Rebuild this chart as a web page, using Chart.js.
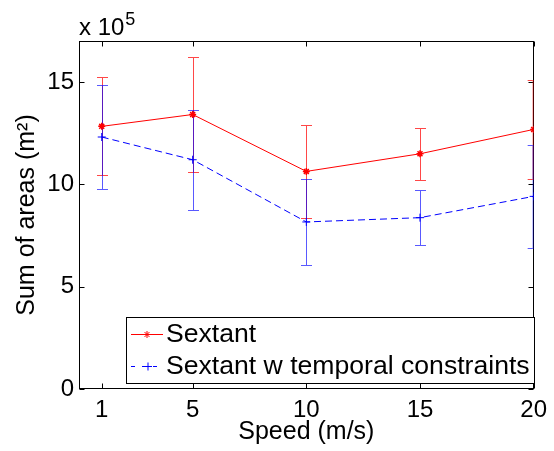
<!DOCTYPE html>
<html><head><meta charset="utf-8">
<script src="https://cdn.jsdelivr.net/npm/chart.js@4.4.0/dist/chart.umd.min.js"></script>
<style>html,body{margin:0;padding:0;background:#fff;overflow:hidden}#wrap{width:554px;height:451px}</style>
</head><body><div id="wrap"><canvas id="c" width="554" height="451"></canvas></div>
<script>
const speeds = [1, 5, 10, 15, 20];
const sextantMean = [12.83, 13.41, 10.63, 11.49, 12.68];
const sextantErr = [2.40, 2.83, 2.26, 1.27, 2.43];
const temporalMean = [12.31, 11.20, 8.16, 8.37, 9.41];
const temporalErr = [2.54, 2.44, 2.10, 1.33, 2.53];
const xTicks = [1, 5, 10, 15, 20];
const yTicks = [0, 5, 10, 15];
const seriesNames = ['Sextant', 'Sextant w temporal constraints'];
const xTitle = 'Speed (m/s)';
const yTitle = 'Sum of areas (m\u00B2)';
const multBase = 'x 10';
const multExp = '5';

const FONT = '"Liberation Sans", Arial, Helvetica, sans-serif';
const RED = '#ff0000', BLUE = '#0000ff';
const RED_EB = 'rgba(255,0,0,0.72)', BLUE_EB = 'rgba(0,0,255,0.65)';

const pts = (m) => speeds.map((s, i) => ({x: s, y: m[i]}));

const errorBars = {
  id: 'errorBars',
  beforeDatasetsDraw(chart) {
    const ctx = chart.ctx, xs = chart.scales.x, ys = chart.scales.y, a = chart.chartArea;
    const sets = [[sextantMean, sextantErr, RED_EB], [temporalMean, temporalErr, BLUE_EB]];
    ctx.save();
    ctx.beginPath();
    ctx.rect(a.left, a.top, a.right - a.left, a.bottom - a.top);
    ctx.clip();
    sets.forEach(([m, e, col]) => {
      ctx.fillStyle = col;
      speeds.forEach((s, i) => {
        const px = Math.round(xs.getPixelForValue(s));
        const top = Math.round(ys.getPixelForValue(m[i] + e[i]));
        const bot = Math.round(ys.getPixelForValue(m[i] - e[i]));
        const x0 = Math.min(px, a.right - 1);
        ctx.fillRect(x0, top, 1, bot - top + 1);
        ctx.fillRect(x0 - 5, top, 5, 1);
        ctx.fillRect(x0 + 1, top, 5, 1);
        ctx.fillRect(x0 - 5, bot, 5, 1);
        ctx.fillRect(x0 + 1, bot, 5, 1);
      });
    });
    ctx.restore();
  }
};

const frame = {
  id: 'frame',
  beforeDatasetsDraw(chart) {
    const ctx = chart.ctx, a = chart.chartArea, xs = chart.scales.x, ys = chart.scales.y;
    const L = Math.round(a.left) + 0.5, R = Math.round(a.right) - 0.5;
    const T = Math.round(a.top) + 0.5, B = Math.round(a.bottom) - 0.5;
    ctx.save();
    ctx.strokeStyle = '#000'; ctx.lineWidth = 1;
    ctx.strokeRect(L, T, R - L, B - T);
    ctx.beginPath();
    xTicks.forEach(v => {
      const px = Math.round(xs.getPixelForValue(v)) + 0.5;
      ctx.moveTo(px, B); ctx.lineTo(px, B - 5);
      ctx.moveTo(px, T); ctx.lineTo(px, T + 5);
    });
    yTicks.forEach(v => {
      const py = Math.round(ys.getPixelForValue(v)) + 0.5;
      ctx.moveTo(L, py); ctx.lineTo(L + 5, py);
      ctx.moveTo(R, py); ctx.lineTo(R - 5, py);
    });
    ctx.stroke();
    ctx.restore();
  },
  afterDraw(chart) {
    const ctx = chart.ctx, a = chart.chartArea;
    ctx.save();
    ctx.fillStyle = '#000';
    ctx.textBaseline = 'alphabetic';
    ctx.font = '24px ' + FONT;
    ctx.fillText(multBase, a.left, 35);
    const w = ctx.measureText(multBase).width;
    ctx.font = '18px ' + FONT;
    ctx.fillText(multExp, a.left + w + 1, 25);

    // legend
    const bx = 126.5, by = 317.5, bw = 408, bh = 66;
    ctx.fillStyle = '#fff';
    ctx.fillRect(bx, by, bw, bh);
    ctx.strokeStyle = '#000'; ctx.lineWidth = 1;
    ctx.strokeRect(bx, by, bw, bh);
    const rows = [334, 366];
    ctx.strokeStyle = RED; ctx.lineWidth = 1;
    ctx.beginPath(); ctx.moveTo(131, rows[0] + 0.5); ctx.lineTo(163, rows[0] + 0.5); ctx.stroke();
    Chart.helpers.drawPoint(ctx, {pointStyle: 'star', radius: 3.5, borderWidth: 1.5, rotation: 0}, 147, rows[0] + 0.5);
    ctx.strokeStyle = BLUE;
    ctx.setLineDash([4, 7]);
    ctx.beginPath(); ctx.moveTo(131, rows[1] + 0.5); ctx.lineTo(163, rows[1] + 0.5); ctx.stroke();
    ctx.setLineDash([]);
    Chart.helpers.drawPoint(ctx, {pointStyle: 'cross', radius: 4, borderWidth: 1, rotation: 0}, 148, rows[1] + 0.5);
    ctx.fillStyle = '#000';
    ctx.font = '26.6px ' + FONT;
    ctx.textBaseline = 'middle';
    ctx.fillText(seriesNames[0], 166, rows[0] + 1);
    ctx.fillText(seriesNames[1], 166, rows[1] + 1);
    ctx.restore();
  }
};

new Chart(document.getElementById('c'), {
  type: 'line',
  data: {
    datasets: [
      {label: seriesNames[0], data: pts(sextantMean), borderColor: RED, backgroundColor: RED,
       borderWidth: 1, pointStyle: 'star', pointRadius: 3.5, pointBorderWidth: 1.5,
       pointBorderColor: RED, tension: 0, fill: false},
      {label: seriesNames[1], data: pts(temporalMean), borderColor: BLUE, backgroundColor: BLUE,
       borderWidth: 1, borderDash: [7, 4], pointStyle: 'cross', pointRadius: 4, pointBorderWidth: 1,
       pointBorderColor: BLUE, tension: 0, fill: false}
    ]
  },
  options: {
    responsive: false,
    devicePixelRatio: 1,
    animation: false,
    layout: {padding: {top: 41, right: 15, left: 0, bottom: 0}},
    plugins: {legend: {display: false}, tooltip: {enabled: false}},
    scales: {
      x: {
        type: 'linear', min: 0, max: 20,
        afterBuildTicks: s => { s.ticks = xTicks.map(v => ({value: v})); },
        afterFit: s => { s.height = 62; },
        grid: {display: false, drawTicks: false},
        border: {display: false},
        ticks: {color: '#000', font: {family: FONT, size: 24}, padding: 7, maxRotation: 0, autoSkip: false},
        title: {display: true, text: xTitle, color: '#000', font: {family: FONT, size: 25}, padding: {top: 0, bottom: 3.5}}
      },
      y: {
        type: 'linear', min: 0, max: 17,
        afterBuildTicks: s => { s.ticks = yTicks.map(v => ({value: v})); },
        afterFit: s => { s.width = 79; },
        grid: {display: false, drawTicks: false},
        border: {display: false},
        ticks: {color: '#000', font: {family: FONT, size: 24}, padding: 5},
        title: {display: true, text: yTitle, color: '#000', font: {family: FONT, size: 25}, padding: {top: 12, bottom: 0}}
      }
    }
  },
  plugins: [frame, errorBars]
});
</script>
</body></html>
